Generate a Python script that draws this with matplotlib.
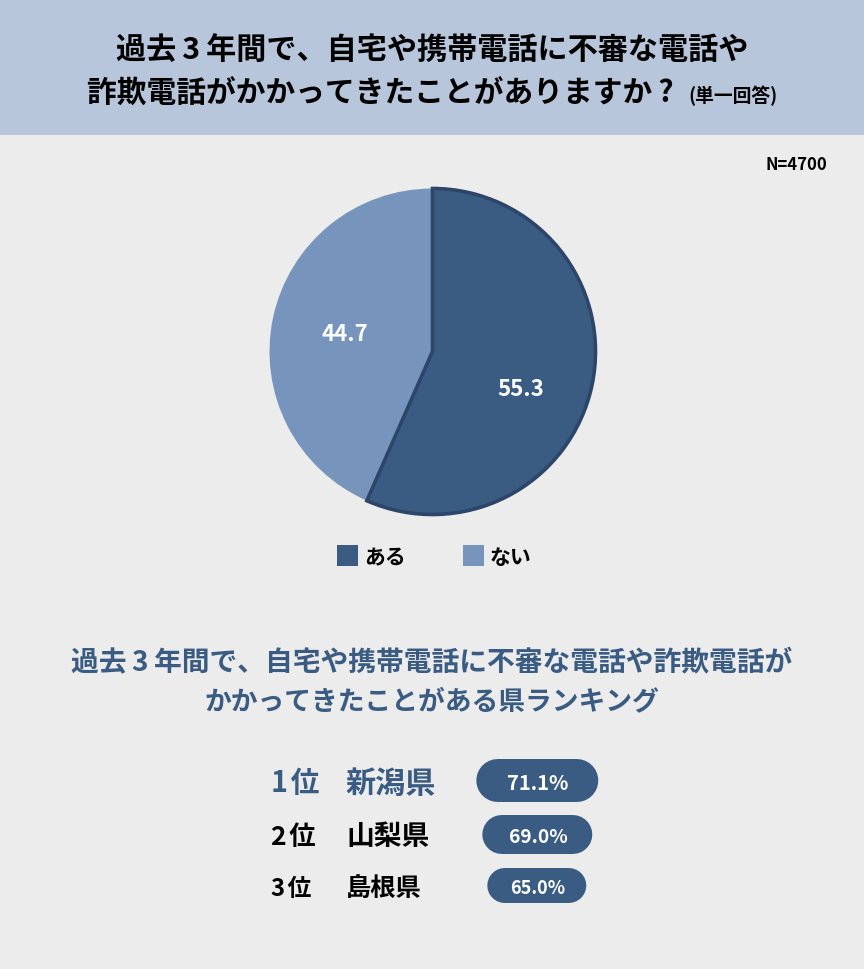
import matplotlib
matplotlib.use("Agg")
import matplotlib.pyplot as plt
from matplotlib.patches import Rectangle

plt.rcParams["font.family"] = ["Noto Sans CJK JP", "DejaVu Sans"]

# データ
labels = ["ある", "ない"]
values = [55.3, 44.7]
# 元の図の扇形は数値どおりではないので、角度は図から読んだ値を使う
wedge_shares = [56.6, 43.4]
n_label = "N=4700"
title_lines = ["過去\u20093\u2009年間で、自宅や携帯電話に不審な電話や", "詐欺電話がかかってきたことがありますか\u2009?"]
title_note = "(単一回答)"
sub_lines = ["過去\u20093\u2009年間で、自宅や携帯電話に不審な電話や詐欺電話が", "かかってきたことがある県ランキング"]
ranks = ["1\u200a位", "2\u200a位", "3\u200a位"]
prefs = ["新潟県", "山梨県", "島根県"]
rates = ["71.1%", "69.0%", "65.0%"]

DARK = "#3a5c83"
EDGE = "#2c4568"
LIGHT = "#7795bc"
BG = "#ececec"
HEAD = "#b7c6da"
W, H = 864, 970

fig = plt.figure(figsize=(W / 100, H / 100), dpi=100, facecolor=BG)

# 全体を画素座標で扱う軸
ax = fig.add_axes([0, 0, 1, 1])
ax.set_xlim(0, W)
ax.set_ylim(H, 0)
ax.axis("off")
ax.add_patch(Rectangle((0, 0), W, 136, fc=HEAD, ec="none"))

ax.text(432.5, 51, title_lines[0], fontsize=21.7, fontweight="bold", ha="center", va="center", color="black")
ax.text(87, 94, title_lines[1], fontsize=21.4, fontweight="bold", ha="left", va="center", color="black")
ax.text(688, 96, title_note, fontsize=13.5, fontweight="bold", ha="left", va="center", color="black")
ax.text(827, 165, n_label, fontsize=12, fontweight="bold", ha="right", va="center", color="black")

# 円グラフ
cx, cy, r = 432.5, 352.5, 163
pie_ax = fig.add_axes([(cx - r) / W, 1 - (cy + r) / H, 2 * r / W, 2 * r / H])
wedges, _ = pie_ax.pie(wedge_shares, colors=[DARK, LIGHT], startangle=90, counterclock=False, radius=1)
pie_ax.set_xlim(-1, 1)
pie_ax.set_ylim(-1, 1)
wedges[0].set(edgecolor=EDGE, linewidth=2.6, zorder=3, clip_on=False, joinstyle="miter")
wedges[1].set(clip_on=False)

ax2 = fig.add_axes([0, 0, 1, 1])
ax2.set_xlim(0, W)
ax2.set_ylim(H, 0)
ax2.axis("off")
ax2.patch.set_alpha(0)

ax2.text(520.5, 390, f"{values[0]}", fontsize=16, fontweight="bold", color="white", ha="center", va="center")
ax2.text(345, 335, f"{values[1]}", fontsize=16, fontweight="bold", color="white", ha="center", va="center")

# 凡例
for x, col, lab, lx in zip([337, 463], [DARK, LIGHT], labels, [364, 490]):
    ax2.add_patch(Rectangle((x, 546), 21, 21, fc=col, ec="none"))
    ax2.text(lx, 558, lab, fontsize=15, fontweight="bold", color="black", ha="left", va="center")

# ランキング見出し
ax2.text(432, 663, sub_lines[0], fontsize=20, fontweight="bold", color=DARK, ha="center", va="center")
ax2.text(432, 701, sub_lines[1], fontsize=19.3, fontweight="bold", color=DARK, ha="center", va="center")

# ランキング
rows = [
    (783.5, 271, 345, 21.7, DARK, 477, 599, 760, 803, 14.5),
    (837.5, 271, 346, 20, "black", 483, 593, 816, 855, 13.8),
    (889.5, 271, 346, 18.2, "black", 488, 587, 869, 904, 13),
]
for (y, rx, px, fs, col, x0, x1, y0, y1, fs2), rk, pf, rt in zip(rows, ranks, prefs, rates):
    ax2.text(rx, y, rk, fontsize=fs - 1, fontweight="bold", color=col, ha="left", va="center")
    ax2.text(px, y, pf, fontsize=fs, fontweight="bold", color=col, ha="left", va="center")
    # 丸いキャップの太線で角丸ラベルを描く
    h = y1 - y0
    ym = (y0 + y1) / 2
    ax2.plot([x0 + h / 2 - 0.7, x1 - h / 2 - 0.7], [ym, ym], color=DARK, linewidth=h * 0.72,
             solid_capstyle="round", snap=False)
    ax2.text((x0 + x1) / 2, ym + 2, rt, fontsize=fs2, fontweight="bold", color="white", ha="center", va="center")

fig.savefig("out.png", dpi=100, facecolor=BG)
